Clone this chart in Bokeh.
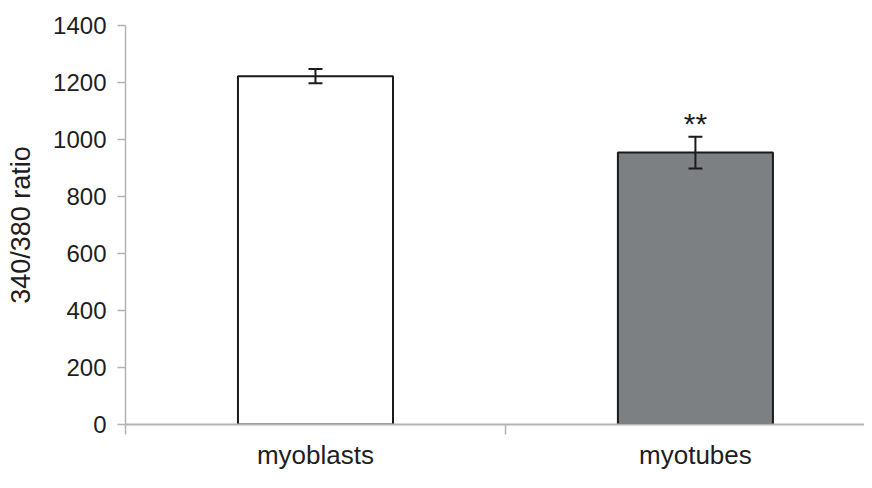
from bokeh.plotting import figure
from bokeh.models import Range1d, FixedTicker, Whisker, ColumnDataSource, TeeHead
from bokeh.core.properties import value
from bokeh.embed import file_html
from bokeh.resources import INLINE

categories = ["myoblasts", "myotubes"]
positions = [0.5, 1.5]
means = [1222, 954]
errors = [25, 56]
fills = ["#ffffff", "#7d8083"]
significance = ["", "**"]
y_ticks = [0, 200, 400, 600, 800, 1000, 1200, 1400]

src = ColumnDataSource(dict(
    x=positions,
    top=means,
    upper=[m + e for m, e in zip(means, errors)],
    lower=[m - e for m, e in zip(means, errors)],
    fill=fills,
    sig=significance,
))

FONT = "Liberation Sans"
AXIS_COLOR = "#b3b3b3"
TEXT_COLOR = "#1e1e1e"

p = figure(width=864, height=472, x_range=Range1d(0, 1.945), y_range=Range1d(0, 1400),
           output_backend="svg", toolbar_location=None,
           min_border_left=125, min_border_right=0, min_border_top=25, min_border_bottom=44)
p.outline_line_color = None
p.xgrid.visible = False
p.ygrid.visible = False
p.background_fill_color = "white"
p.border_fill_color = "white"

p.vbar(x="x", top="top", bottom=0, width=0.408, source=src,
       fill_color="fill", line_color="#1a1a1a", line_width=2)

w = Whisker(base="x", upper="upper", lower="lower", source=src,
            line_color="#1a1a1a", line_width=2, level="annotation",
            upper_head=TeeHead(size=14, line_width=2, line_color="#1a1a1a"),
            lower_head=TeeHead(size=14, line_width=2, line_color="#1a1a1a"))
p.add_layout(w)

p.text(x="x", y="upper", text="sig", source=src, text_font=value(FONT),
       text_font_size="30px", text_align="center", text_baseline="alphabetic",
       y_offset=-13, text_color=TEXT_COLOR)

# y axis
ya = p.yaxis[0]
ya.ticker = FixedTicker(ticks=y_ticks)
ya.axis_label = "340/380 ratio"
ya.axis_label_text_font = FONT
ya.axis_label_text_font_size = "27px"
ya.axis_label_text_font_style = "normal"
ya.axis_label_text_color = TEXT_COLOR
ya.axis_label_standoff = 14
ya.major_label_text_font = FONT
ya.major_label_text_font_size = "24px"
ya.major_label_text_color = TEXT_COLOR
ya.major_label_standoff = 11
ya.major_tick_out = 8
ya.major_tick_in = 0
ya.minor_tick_line_color = None
ya.axis_line_color = AXIS_COLOR
ya.axis_line_width = 1.5
ya.major_tick_line_color = AXIS_COLOR
ya.major_tick_line_width = 1.5

# x axis
xa = p.xaxis[0]
xa.ticker = FixedTicker(ticks=positions, minor_ticks=[0, 1])
xa.major_label_overrides = {pos: cat for pos, cat in zip(positions, categories)}
xa.major_label_text_font = FONT
xa.major_label_text_font_size = "26px"
xa.major_label_text_color = TEXT_COLOR
xa.major_label_standoff = 5
xa.major_tick_line_color = None
xa.major_tick_out = 0
xa.major_tick_in = 0
xa.minor_tick_out = 10
xa.minor_tick_in = 0
xa.minor_tick_line_color = AXIS_COLOR
xa.minor_tick_line_width = 1.5
xa.axis_line_color = AXIS_COLOR
xa.axis_line_width = 2

open("out.html", "w").write(file_html(p, INLINE))
